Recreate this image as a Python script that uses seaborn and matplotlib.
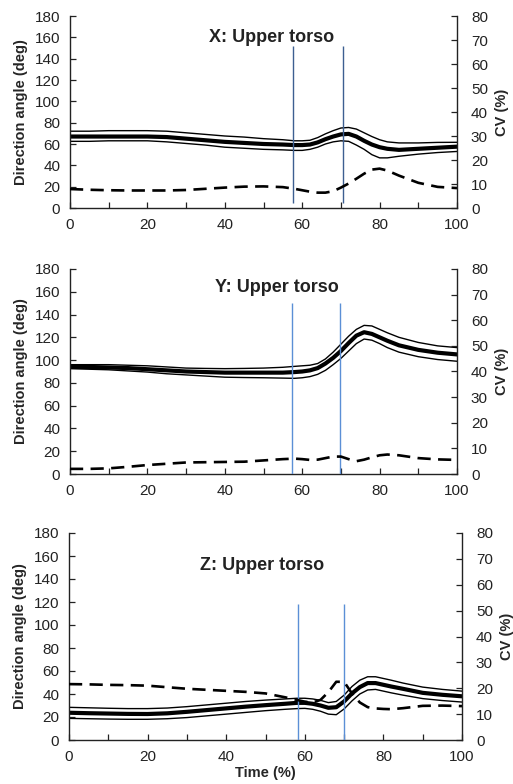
import numpy as np
import pandas as pd
import matplotlib
matplotlib.use("Agg")
import matplotlib.pyplot as plt
from matplotlib.ticker import MultipleLocator
import seaborn as sns

sns.set_style("ticks")
plt.rcParams['font.family'] = ['Liberation Sans', 'DejaVu Sans']

# ---------------- data ----------------
time = [0, 5, 10, 15, 20, 25, 30, 35, 40, 45, 50, 55, 58, 60, 62, 64, 66, 68,
        70, 72, 74, 76, 78, 80, 82, 85, 90, 95, 100]

x_mean = [67, 67, 67, 67, 67, 66.5, 65, 63.5, 62, 61, 60, 59.5, 59, 59, 59.5, 61.5, 64.5, 67,
          69, 69.5, 67, 63, 59.5, 57, 55.5, 54.5, 55.5, 56.5, 57.5]
x_upper = [72, 72, 72.5, 72.5, 72.5, 72, 70.5, 69, 67.5, 66.5, 65, 64, 63, 63, 63.5, 66, 69.5, 72.5,
           75, 75.5, 74, 70.5, 67, 64, 62, 61, 61, 61.5, 61.6]
x_lower = [62.5, 62.5, 63, 63, 63, 62, 60.5, 59, 57, 56, 55, 54.5, 54, 54, 55, 57, 60, 62,
           63, 62.5, 59, 55, 50, 47, 47, 48.5, 50.5, 52, 53]
x_cv = [7.9, 7.6, 7.4, 7.3, 7.3, 7.3, 7.5, 8.0, 8.5, 8.9, 9.0, 8.7, 8.0, 7.4, 6.8, 6.4, 6.4, 7.0,
        8.5, 10.2, 12.2, 14.3, 16.0, 16.4, 15.6, 13.5, 10.5, 8.8, 8.3]

y_mean = [94, 94, 93.5, 93, 92, 91, 90, 89.5, 89, 89, 89, 89, 89.5, 90, 91, 93, 97, 102,
          108, 115, 121.5, 124.5, 123, 120, 117, 113, 109, 106.5, 105]
y_upper = [96, 96, 96, 95.5, 95, 94, 93, 92.7, 92.5, 92.7, 93, 93.7, 94.5, 95, 95.5, 97, 101, 107,
           114, 121, 127, 130.5, 130, 127, 124, 120, 115.5, 112.5, 111]
y_lower = [92.5, 92, 91.5, 90.5, 89.5, 88, 87, 86, 85, 84.7, 84.5, 84.2, 84, 84.5, 85.5, 87.5, 91, 96,
           101.5, 108, 114.5, 118.5, 117.5, 114.5, 111, 107, 103, 100.5, 99]
y_cv = [2.0, 2.0, 2.2, 2.8, 3.5, 4.0, 4.5, 4.6, 4.7, 4.8, 5.3, 5.8, 6.0, 5.8, 5.5, 5.6, 6.2, 6.8,
        6.8, 5.8, 5.0, 5.6, 6.5, 7.3, 7.6, 7.3, 6.2, 5.7, 5.5]

z_mean = [23.7, 23.3, 23, 22.7, 22.6, 23.2, 24.5, 26, 27.5, 29, 30.3, 31.5, 32.3, 32.3, 31.5, 30, 28, 28.5,
          33.5, 40.5, 46, 49.5, 49.5, 48, 46.5, 44.5, 41, 39.3, 38]
z_upper = [28.4, 28, 27.6, 27.3, 27.3, 27.8, 29, 30.5, 32, 33.5, 34.7, 35.7, 36.3, 36.3, 35.7, 34.5, 32.5, 33.5,
           39, 46.5, 52, 55, 55, 53.5, 52, 49.5, 46, 44, 42.5]
z_lower = [18.8, 18.5, 18.2, 18, 18, 18.5, 19.5, 21, 22.5, 24, 25.5, 26.7, 27.3, 27.5, 26.7, 25, 22.5, 22,
           27, 34, 40, 43.5, 44, 42.5, 41, 39, 36, 34.3, 33]
z_cv = [21.6, 21.5, 21.3, 21.2, 21, 20.4, 19.8, 19.4, 19, 18.6, 18, 16.5, 15.5, 14.8, 14.5, 15.5, 18.5, 22.5,
        22.5, 18, 14.5, 12.7, 12.2, 12, 11.9, 12.3, 13.2, 13.3, 13.1]

titles = ["X: Upper torso", "Y: Upper torso", "Z: Upper torso"]
events_x = [57.6, 70.5]
events_y = [57.4, 69.8]
events_z = [58.3, 70.0]
event_top = [152, 150, 118]
event_bottom = [5, 0, 0]

panels = [
    (x_mean, x_upper, x_lower, x_cv, events_x),
    (y_mean, y_upper, y_lower, y_cv, events_y),
    (z_mean, z_upper, z_lower, z_cv, events_z),
]

# ---------------- layout ----------------
W, H = 513, 784
fig = plt.figure(figsize=(W / 100, H / 100), dpi=100)

# pixel boxes: left, right, top, bottom
boxes = [(70, 457, 16, 208), (70, 457, 269, 474), (69, 462, 533, 740)]
title_pos = [(52, 160), (53.5, 164), (49, 152)]
vline_colors = ["#3d5f91", "#5b8fd6", "#5b8fd6"]

for i, ((mean, upper, lower, cv, ev), (l, r, t, b)) in enumerate(zip(panels, boxes)):
    ax = fig.add_axes([l / W, 1 - b / H, (r - l) / W, (b - t) / H])
    df = pd.DataFrame({"time": time, "mean": mean, "upper": upper, "lower": lower, "cv": cv})

    sns.lineplot(data=df, x="time", y="upper", ax=ax, color="black", lw=1.0)
    sns.lineplot(data=df, x="time", y="lower", ax=ax, color="black", lw=1.0)
    sns.lineplot(data=df, x="time", y="mean", ax=ax, color="black", lw=3.0)
    ax.vlines(ev, event_bottom[i], event_top[i], color=vline_colors[i], lw=1.0, zorder=5)

    ax.set_xlim(0, 100)
    ax.set_ylim(0, 180)
    ax.yaxis.set_major_locator(MultipleLocator(20))
    ax.xaxis.set_major_locator(MultipleLocator(20))
    ax.xaxis.set_minor_locator(MultipleLocator(10))
    ax.tick_params(axis="both", which="both", direction="in", labelsize=11,
                   colors="#222222", width=0.9)
    ax.tick_params(axis="x", which="both", length=4, pad=7)
    ax.tick_params(axis="y", which="both", length=4, pad=7)
    ax.spines["top"].set_visible(False)
    ax.spines["right"].set_visible(False)
    for s in ("left", "bottom"):
        ax.spines[s].set_color("#222222")
        ax.spines[s].set_linewidth(1.0)
    ax.set_ylabel("Direction angle (deg)", fontsize=10.5, fontweight="bold", labelpad=5)
    if i == 2:
        ax.set_xlabel("Time (%)", fontsize=10.5, fontweight="bold", labelpad=2)
    else:
        ax.set_xlabel("")
    ax.text(title_pos[i][0], title_pos[i][1], titles[i], ha="center", va="center",
            fontsize=13, fontweight="bold", color="#222222")

    ax2 = ax.twinx()
    sns.lineplot(data=df, x="time", y="cv", ax=ax2, color="black", lw=1.9,
                 linestyle=(0, (5, 2.8)))
    ax2.set_ylim(0, 80)
    ax2.yaxis.set_major_locator(MultipleLocator(10))
    ax2.tick_params(axis="y", direction="in", labelsize=11, colors="#222222",
                    length=4, pad=10, width=0.9)
    ax2.spines["top"].set_visible(False)
    ax2.spines["left"].set_visible(False)
    ax2.spines["bottom"].set_visible(False)
    ax2.spines["right"].set_color("#222222")
    ax2.spines["right"].set_linewidth(1.0)
    ax2.set_ylabel("CV (%)", fontsize=10.5, fontweight="bold", labelpad=5)
    ax2.set_xlabel("")

fig.savefig("out.png", dpi=100)
